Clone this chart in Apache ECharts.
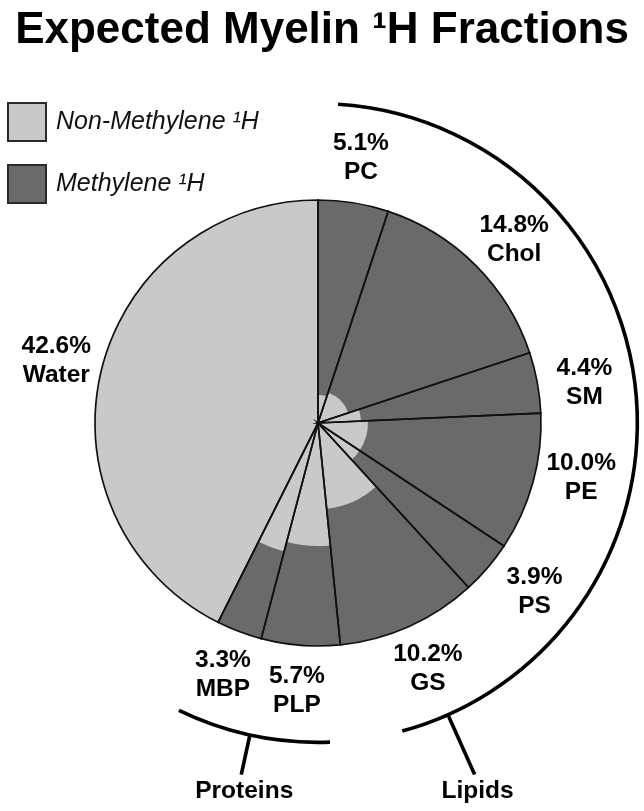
<!DOCTYPE html>
<html><head><meta charset="utf-8">
<script src="https://cdn.jsdelivr.net/npm/echarts@6/dist/echarts.min.js"></script>
<style>html,body{margin:0;padding:0;background:#fff}#c{width:644px;height:811px}</style>
</head><body><div id="c"></div>
<script>
// ---------------- data ----------------
const categories = ['PC', 'Chol', 'SM', 'PE', 'PS', 'GS', 'PLP', 'MBP', 'Water'];
const percentages = [5.1, 14.8, 4.4, 10.0, 3.9, 10.2, 5.7, 3.3, 42.6];
// radius of the light (non-methylene) inner wedge, as % of the pie radius
const nonMethyleneRadius = [12.6, 14.3, 19.3, 22.4, 22.4, 38.6, 55.2, 59.6, 100];
const groupNames = ['Lipids', 'Proteins'];
const legendNames = ['Non-Methylene \u00B9H', 'Methylene \u00B9H'];
const titleText = 'Expected Myelin \u00B9H Fractions';

// ---------------- layout / style ----------------
const FONT = '"Liberation Sans", Arial, Helvetica, sans-serif';
const LIGHT = '#c9c9c9', DARK = '#6a6a6a', INK = '#111';
const LABEL_SIZE = 24.5;
const LAYOUT = {
  center: [318, 423], radius: 223,
  labelR: 120.6,
  labelNudge: { Chol: [6, 7], SM: [2, 8], PE: [4, -17], PS: [12, -6] },
  groupArcR: 143.2,
  group: {
    Lipids:   { from: 1.0,  to: 45.75, tick: 43.33, tickEnd: 172.6 },
    Proteins: { from: 49.4, to: 57.17, tick: 53.42, tickEnd: 161.4 }
  }
};

// cumulative angles
const starts = [], ends = [];
let acc = 0;
percentages.forEach(v => { starts.push(acc); acc += v; ends.push(acc); });

function angles(api, cs, rv, a0, a1) {
  const p0 = api.coord([rv, a0]), p1 = api.coord([rv, a1]);
  const r = Math.hypot(p0[0] - cs.cx, p0[1] - cs.cy);
  let t0 = Math.atan2(p0[1] - cs.cy, p0[0] - cs.cx);
  let t1 = Math.atan2(p1[1] - cs.cy, p1[0] - cs.cx);
  if (t1 <= t0 + 1e-9) t1 += Math.PI * 2;
  return { r, t0, t1 };
}

function sectorRender(fillFn, strokeFn, lw) {
  return function (params, api) {
    const cs = params.coordSys;
    const g = angles(api, cs, api.value(0), api.value(1), api.value(2));
    return {
      type: 'sector',
      shape: { cx: cs.cx, cy: cs.cy, r0: 0, r: g.r, startAngle: g.t0, endAngle: g.t1, clockwise: true },
      style: { fill: fillFn(params.dataIndex), stroke: strokeFn(params.dataIndex), lineWidth: lw }
    };
  };
}

const baseData = categories.map((c, i) => [100, starts[i], ends[i]]);
const lightData = categories.map((c, i) => [nonMethyleneRadius[i], starts[i], ends[i]]);
const labelData = categories.map((c, i) => [LAYOUT.labelR, (starts[i] + ends[i]) / 2]);
const groupData = groupNames.map((g, i) => [LAYOUT.groupArcR, LAYOUT.group[g].tick]);

const chart = echarts.init(document.getElementById('c'), null, { renderer: 'canvas' });
chart.setOption({
  animation: false,
  backgroundColor: '#fff',
  title: {
    text: titleText, left: 'center', top: 9, padding: 0,
    textStyle: { fontSize: 44, fontWeight: 'bold', color: '#000', fontFamily: FONT }
  },
  legend: {
    orient: 'vertical', left: 7, top: 102, padding: 0,
    itemWidth: 38, itemHeight: 38, itemGap: 22, icon: 'rect', selectedMode: false,
    data: legendNames,
    itemStyle: { borderColor: '#2a2a2a', borderWidth: 2 },
    textStyle: { fontSize: 25, fontStyle: 'italic', color: '#111', fontFamily: FONT, padding: [0, 0, 0, 5] }
  },
  polar: { center: LAYOUT.center, radius: LAYOUT.radius },
  angleAxis: { type: 'value', min: 0, max: 100, startAngle: 90, clockwise: true, show: false },
  radiusAxis: { type: 'value', min: 0, max: 100, show: false },
  series: [
    {
      name: legendNames[1], type: 'custom', coordinateSystem: 'polar', z: 1,
      itemStyle: { color: DARK, borderColor: '#2a2a2a', borderWidth: 2 },
      renderItem: sectorRender(() => DARK, () => null, 0),
      data: baseData
    },
    {
      name: legendNames[0], type: 'custom', coordinateSystem: 'polar', z: 2,
      itemStyle: { color: LIGHT, borderColor: '#2a2a2a', borderWidth: 2 },
      renderItem: sectorRender(() => LIGHT, () => null, 0),
      data: lightData
    },
    {
      name: 'outline', type: 'custom', coordinateSystem: 'polar', z: 3,
      renderItem: sectorRender(() => 'none', () => INK, 1.7),
      data: baseData
    },
    {
      name: 'labels', type: 'custom', coordinateSystem: 'polar', z: 4,
      renderItem: function (params, api) {
        const i = params.dataIndex;
        const p = api.coord([api.value(0), api.value(1)]);
        const n = LAYOUT.labelNudge[categories[i]] || [0, 0];
        return {
          type: 'text', x: p[0] + n[0], y: p[1] + n[1],
          style: {
            text: percentages[i].toFixed(1) + '%\n' + categories[i],
            fill: '#000', fontSize: LABEL_SIZE, fontWeight: 'bold', fontFamily: FONT,
            align: 'center', verticalAlign: 'middle', lineHeight: 29
          }
        };
      },
      data: labelData
    },
    {
      name: 'groups', type: 'custom', coordinateSystem: 'polar', z: 5,
      renderItem: function (params, api) {
        const cs = params.coordSys;
        const gname = groupNames[params.dataIndex];
        const G = LAYOUT.group[gname];
        const g = angles(api, cs, LAYOUT.groupArcR, G.from, G.to);
        const t1 = api.coord([LAYOUT.groupArcR, G.tick]);
        const t2 = api.coord([G.tickEnd, G.tick]);
        return {
          type: 'group',
          children: [
            { type: 'arc', shape: { cx: cs.cx, cy: cs.cy, r: g.r, startAngle: g.t0, endAngle: g.t1, clockwise: true },
              style: { stroke: '#000', lineWidth: 3.6, fill: 'none' } },
            { type: 'line', shape: { x1: t1[0], y1: t1[1], x2: t2[0], y2: t2[1] },
              style: { stroke: '#000', lineWidth: 3.6 } },
            { type: 'text', x: t2[0] + 3, y: t2[1] + 17,
              style: { text: gname, fill: '#000', fontSize: LABEL_SIZE, fontWeight: 'bold', fontFamily: FONT,
                       align: 'center', verticalAlign: 'middle' } }
          ]
        };
      },
      data: groupData
    }
  ]
});
</script>
</body></html>
